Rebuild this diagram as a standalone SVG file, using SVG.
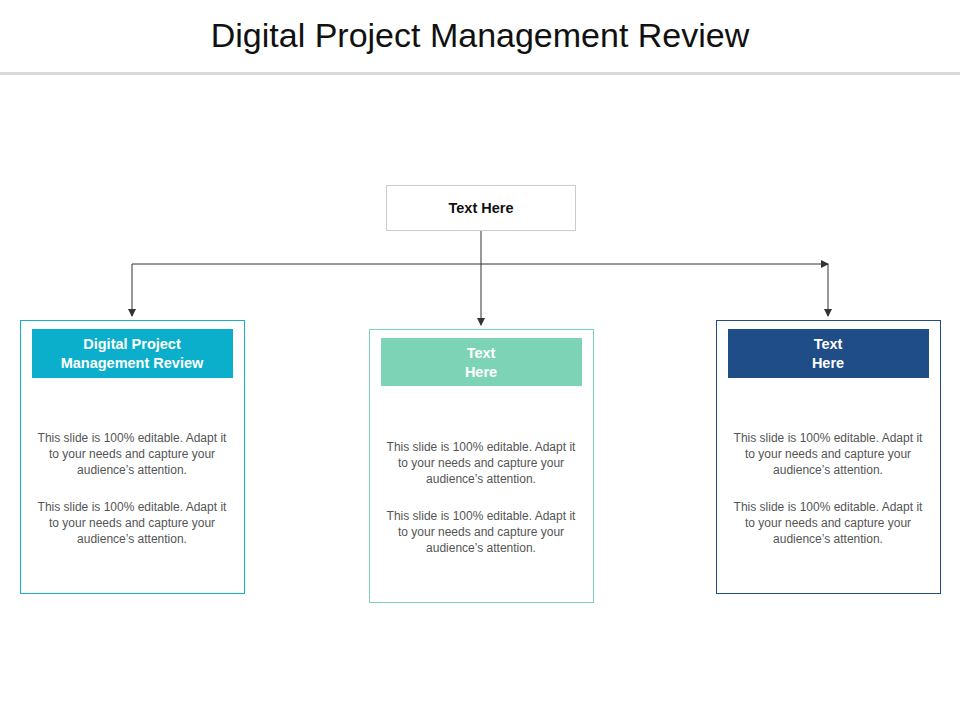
<svg xmlns="http://www.w3.org/2000/svg" width="960" height="720" viewBox="0 0 960 720">
<style>
text{font-family:"Liberation Sans",Arial,sans-serif}
.t{font-size:34px;fill:#111;text-anchor:middle}
.h{font-size:14.5px;font-weight:bold;fill:#fff;text-anchor:middle}
.b{font-size:12px;fill:#555;text-anchor:middle}
.c{stroke:#333;stroke-width:1;fill:none;marker-end:url(#a)}
</style>
<defs><marker id="a" markerWidth="8" markerHeight="8" refX="7" refY="4" orient="auto" markerUnits="userSpaceOnUse"><path d="M0,0L8,4L0,8z" fill="#333"/></marker></defs>
<rect width="960" height="720" fill="#fff"/>
<text class="t" x="480" y="47">Digital Project Management Review</text>
<rect x="0" y="72" width="960" height="3" fill="#d9d9d9"/>
<g id="connectors">
<path class="c" d="M481,231V325"/>
<path class="c" d="M132,264H828"/>
<path class="c" d="M132,264V316"/>
<path class="c" d="M828,264V316"/>
</g>
<g id="top"><rect x="386.5" y="185.5" width="189" height="45" fill="#fff" stroke="#ccc"/><text x="481" y="213" style="font-size:14.5px;font-weight:bold;fill:#111;text-anchor:middle">Text Here</text></g>
<g id="left"><rect x="20.5" y="320.5" width="224" height="273" fill="#fff" stroke="#1AAFC9"/><rect x="32" y="329" width="201" height="49" fill="#0BAFCB"/>
<text class="h" x="132" y="349">Digital Project</text><text class="h" x="132" y="368">Management Review</text>
<text class="b" x="132" y="442">This slide is 100% editable. Adapt it</text><text class="b" x="132" y="458">to your needs and capture your</text><text class="b" x="132" y="474">audience’s attention.</text>
<text class="b" x="132" y="511">This slide is 100% editable. Adapt it</text><text class="b" x="132" y="527">to your needs and capture your</text><text class="b" x="132" y="543">audience’s attention.</text></g>
<g id="mid"><rect x="369.5" y="329.5" width="224" height="273" fill="#fff" stroke="#7DD3B6"/><rect x="381" y="338" width="201" height="48" fill="#7DD3B6"/>
<text class="h" x="481" y="358">Text</text><text class="h" x="481" y="377">Here</text>
<text class="b" x="481" y="451">This slide is 100% editable. Adapt it</text><text class="b" x="481" y="467">to your needs and capture your</text><text class="b" x="481" y="483">audience’s attention.</text>
<text class="b" x="481" y="520">This slide is 100% editable. Adapt it</text><text class="b" x="481" y="536">to your needs and capture your</text><text class="b" x="481" y="552">audience’s attention.</text></g>
<g id="right"><rect x="716.5" y="320.5" width="224" height="273" fill="#fff" stroke="#1F4D87"/><rect x="728" y="329" width="201" height="49" fill="#1F4D87"/>
<text class="h" x="828" y="349">Text</text><text class="h" x="828" y="368">Here</text>
<text class="b" x="828" y="442">This slide is 100% editable. Adapt it</text><text class="b" x="828" y="458">to your needs and capture your</text><text class="b" x="828" y="474">audience’s attention.</text>
<text class="b" x="828" y="511">This slide is 100% editable. Adapt it</text><text class="b" x="828" y="527">to your needs and capture your</text><text class="b" x="828" y="543">audience’s attention.</text></g>
</svg>
